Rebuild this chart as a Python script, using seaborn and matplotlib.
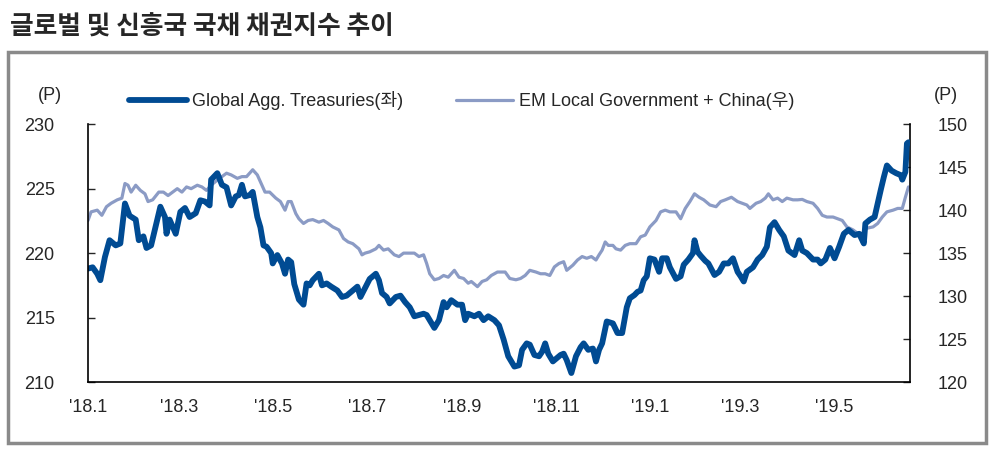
import numpy as np
import pandas as pd
import matplotlib
matplotlib.use("Agg")
import matplotlib.pyplot as plt
import seaborn as sns
from matplotlib.patches import Rectangle

# ---- data ----
start = pd.Timestamp("2018-01-01")

# Global Agg. Treasuries (left axis): day offset from 2018-01-01, index level
g_day = [0, 3, 6, 8, 11, 14, 18, 21, 24, 27, 31, 33, 36, 38, 41, 45, 47, 50, 51, 53,
         57, 60, 63, 66, 70, 73, 76, 79, 80, 84, 87, 90, 93, 96, 98, 100, 102, 105, 107, 110,
         112, 114, 116, 119, 120, 123, 126, 128, 130, 132, 134, 137, 140, 142, 144, 146, 150, 152, 155, 158,
         162, 165, 168, 171, 175, 177, 180, 183, 187, 189, 191, 194, 196, 200, 203, 206, 209, 212, 215, 218,
         220, 222, 225, 228, 231, 233, 236, 240, 243, 245, 247, 251, 254, 257, 260, 264, 267, 270, 273, 277,
         280, 282, 285, 287, 290, 293, 295, 297, 299, 302, 304, 307, 309, 311, 314, 317, 320, 322, 325, 328,
         330, 332, 334, 337, 341, 344, 347, 350, 352, 355, 357, 359, 361, 363, 365, 368, 371, 373, 376, 378,
         382, 385, 387, 390, 393, 394, 396, 398, 401, 403, 407, 410, 413, 416, 419, 422, 424, 426, 428, 432,
         435, 438, 441, 443, 446, 449, 452, 455, 459, 462, 464, 467, 471, 474, 476, 479, 482, 485, 488, 491,
         494, 498, 501, 504, 505, 508, 511, 513, 515, 517, 519, 522, 525, 528, 529, 531, 532, 533]
g_val = [218.8, 218.9, 218.4, 217.9, 219.7, 221.0, 220.6, 220.75, 223.85, 222.9, 222.6, 221.0, 221.3, 220.4, 220.6, 222.6, 223.6, 222.8, 221.5, 222.6,
         221.5, 223.2, 223.5, 222.8, 223.1, 224.1, 224.0, 223.7, 225.7, 226.2, 225.3, 225.1, 223.7, 224.4, 224.5, 225.3, 224.4, 224.5, 224.75, 222.8,
         222.0, 220.6, 220.5, 220.0, 219.2, 219.85, 219.2, 218.4, 219.5, 219.3, 217.6, 216.4, 216.0, 217.65, 217.5, 217.9, 218.4, 217.5, 217.65, 217.4,
         217.1, 216.6, 216.7, 217.0, 217.4, 216.6, 217.3, 218.0, 218.4, 217.9, 216.9, 216.6, 216.1, 216.6, 216.7, 216.2, 215.8, 215.1, 215.2, 215.3,
         215.2, 214.8, 214.2, 214.8, 216.2, 215.8, 216.35, 216.0, 216.0, 214.8, 215.3, 215.1, 215.3, 214.8, 215.1, 214.8, 214.4, 213.3, 212.0, 211.2,
         211.3, 212.5, 213.0, 212.9, 212.1, 212.0, 212.35, 213.0, 212.2, 211.6, 211.8, 212.1, 212.2, 211.7, 210.7, 212.0, 212.7, 213.0, 212.5, 212.6,
         211.6, 212.5, 213.0, 214.7, 214.55, 213.8, 213.8, 215.8, 216.5, 216.75, 217.0, 217.1, 217.9, 218.2, 219.6, 219.5, 218.55, 219.6, 219.6, 218.9,
         218.0, 218.2, 219.1, 219.5, 220.0, 221.0, 220.1, 219.8, 219.4, 219.2, 218.3, 218.55, 219.2, 219.2, 219.6, 218.55, 218.2, 217.8, 218.55, 218.9,
         219.5, 219.85, 220.5, 222.0, 222.4, 221.8, 221.3, 220.2, 219.85, 221.0, 220.2, 220.0, 219.5, 219.5, 219.2, 219.5, 220.4, 219.6, 220.5, 221.5,
         221.8, 221.4, 221.5, 220.75, 222.3, 222.6, 222.8, 223.85, 224.9, 225.9, 226.8, 226.4, 226.2, 226.05, 225.7, 226.3, 228.5, 228.6]

# EM Local Government + China (right axis)
e_day = [0, 2, 6, 9, 12, 15, 19, 22, 24, 26, 28, 31, 34, 37, 39, 42, 46, 49, 52, 55,
         58, 61, 64, 67, 71, 74, 77, 80, 84, 87, 90, 93, 97, 100, 103, 105, 107, 110, 112, 115,
         118, 122, 125, 128, 130, 132, 135, 137, 140, 143, 146, 150, 153, 156, 159, 163, 166, 169, 172, 176,
         178, 180, 183, 187, 189, 192, 195, 199, 202, 205, 208, 212, 215, 218, 220, 222, 225, 228, 231, 234,
         238, 241, 244, 247, 249, 253, 256, 259, 262, 266, 268, 271, 274, 278, 281, 284, 287, 291, 294, 297,
         300, 303, 306, 309, 311, 315, 318, 321, 324, 327, 330, 332, 334, 336, 338, 341, 343, 346, 349, 352,
         356, 359, 362, 365, 369, 372, 375, 378, 382, 385, 388, 391, 394, 397, 400, 404, 408, 411, 414, 418,
         422, 425, 428, 430, 434, 437, 440, 442, 445, 448, 451, 454, 458, 461, 464, 467, 471, 474, 477, 480,
         484, 487, 490, 493, 497, 500, 503, 506, 510, 513, 516, 519, 523, 526, 529, 531, 533]
e_val = [138.8, 139.8, 140.0, 139.4, 140.4, 140.8, 141.2, 141.4, 143.1, 142.9, 142.1, 142.9, 142.3, 141.9, 141.0, 141.2, 142.1, 142.1, 141.7, 142.1,
         142.5, 142.1, 142.7, 142.5, 142.9, 142.7, 142.3, 142.9, 143.5, 143.9, 144.3, 144.1, 143.7, 143.9, 143.9, 144.3, 144.7, 144.1, 143.3, 142.1,
         142.1, 141.4, 141.0, 140.0, 141.0, 141.0, 139.6, 139.0, 138.45, 138.8, 138.9, 138.6, 138.8, 138.45, 138.05, 137.7, 136.7, 136.3, 136.1, 135.5,
         134.8, 135.0, 135.15, 135.5, 135.9, 135.35, 135.5, 134.8, 134.6, 135.0, 135.0, 135.0, 134.6, 134.8, 133.8, 132.6, 131.9, 132.05, 132.4, 132.2,
         133.0, 132.2, 132.05, 131.5, 131.7, 131.1, 131.7, 131.9, 132.4, 132.8, 132.8, 132.8, 132.05, 131.9, 132.05, 132.4, 133.0, 132.8, 132.6, 132.6,
         132.4, 133.4, 133.8, 134.0, 133.0, 133.6, 134.2, 134.6, 134.4, 134.6, 134.2, 134.8, 135.35, 136.3, 135.9, 135.9, 135.5, 135.35, 135.9, 136.1,
         136.1, 136.9, 137.1, 138.05, 138.8, 139.8, 140.0, 139.8, 139.8, 139.0, 140.2, 141.0, 141.9, 141.5, 141.2, 140.6, 140.4, 141.0, 141.2, 141.5,
         141.0, 140.8, 140.6, 140.2, 140.8, 141.0, 141.4, 141.9, 141.2, 141.4, 141.0, 141.4, 141.2, 141.2, 141.25, 141.0, 140.8, 140.2, 139.4, 139.2,
         139.2, 139.0, 138.8, 138.05, 137.7, 137.3, 137.3, 137.9, 138.05, 138.45, 139.2, 139.8, 140.0, 140.2, 140.2, 141.5, 142.7]

tick_dates = ["2018-01-01", "2018-03-01", "2018-05-01", "2018-07-01", "2018-09-01",
              "2018-11-01", "2019-01-01", "2019-03-01", "2019-05-01"]
tick_labels = ["'18.1", "'18.3", "'18.5", "'18.7", "'18.9", "'18.11", "'19.1", "'19.3", "'19.5"]

title = "글로벌 및 신흥국 국채 채권지수 추이"
label_g = "Global Agg. Treasuries(좌)"
label_e = "EM Local Government + China(우)"

df_g = pd.DataFrame({"date": start + pd.to_timedelta(g_day, unit="D"), "value": g_val})
df_e = pd.DataFrame({"date": start + pd.to_timedelta(e_day, unit="D"), "value": e_val})

# ---- style ----
sns.set_style("white")
plt.rcParams["font.family"] = ["Liberation Sans", "Noto Sans CJK KR", "DejaVu Sans"]
fs = 13

dark = "#004B93"
light = "#8B9BC5"

fig = plt.figure(figsize=(10, 4.5), dpi=100)
ax = fig.add_axes([0.088, 0.151, 0.822, 0.573])
ax2 = ax.twinx()

sns.lineplot(data=df_e, x="date", y="value", ax=ax2, color=light, lw=2.3,
             estimator=None, label=label_e, legend=False)
sns.lineplot(data=df_g, x="date", y="value", ax=ax, color=dark, lw=4.2,
             estimator=None, label=label_g, legend=False)
ax.set_zorder(ax2.get_zorder() + 1)
ax.patch.set_visible(False)

ax.set_xlim(start, start + pd.Timedelta(days=534))
ax.set_ylim(210, 230)
ax2.set_ylim(120, 150)
ax.set_yticks(np.arange(210, 231, 5))
ax2.set_yticks(np.arange(120, 151, 5))
ax.set_xticks(pd.to_datetime(tick_dates))
ax.set_xticklabels(tick_labels)
ax.set_xlabel("")
ax.set_ylabel("")
ax2.set_ylabel("")

for a in (ax, ax2):
    a.spines["top"].set_visible(False)
    for s in ("left", "right", "bottom"):
        a.spines[s].set_color("black")
        a.spines[s].set_linewidth(1.2)
ax.spines["right"].set_visible(False)
ax2.spines["left"].set_visible(False)
ax2.spines["bottom"].set_visible(False)

ax.tick_params(axis="y", direction="in", length=5, width=1, pad=24, labelsize=fs)
ax.tick_params(axis="x", direction="in", length=5, width=1, pad=12, labelsize=fs)
ax2.tick_params(axis="y", direction="in", length=5, width=1, pad=20, labelsize=fs)

fig.text(0.050, 1 - 95 / 450, "(P)", fontsize=fs, ha="center", va="center")
fig.text(0.946, 1 - 95 / 450, "(P)", fontsize=fs, ha="center", va="center")

h1, l1 = ax.get_legend_handles_labels()
h2, l2 = ax2.get_legend_handles_labels()
fig.legend(h1 + h2, l1 + l2, loc="center left", bbox_to_anchor=(0.129, 1 - 101 / 450),
           ncol=2, frameon=False, fontsize=fs, handlelength=3.2, handletextpad=0.3,
           columnspacing=2.9, borderpad=0, borderaxespad=0)

fig.text(0.010, 1 - 27 / 450, title, fontsize=18.5, fontweight="bold",
         family=["Noto Sans CJK KR", "DejaVu Sans"], ha="left", va="center")

fig.patches.append(Rectangle((0.008, 1 - 443 / 450), 0.978, (443 - 52) / 450,
                             transform=fig.transFigure, fill=False,
                             edgecolor="#8a8a8a", lw=2.5))

fig.savefig("out.png", dpi=100)
